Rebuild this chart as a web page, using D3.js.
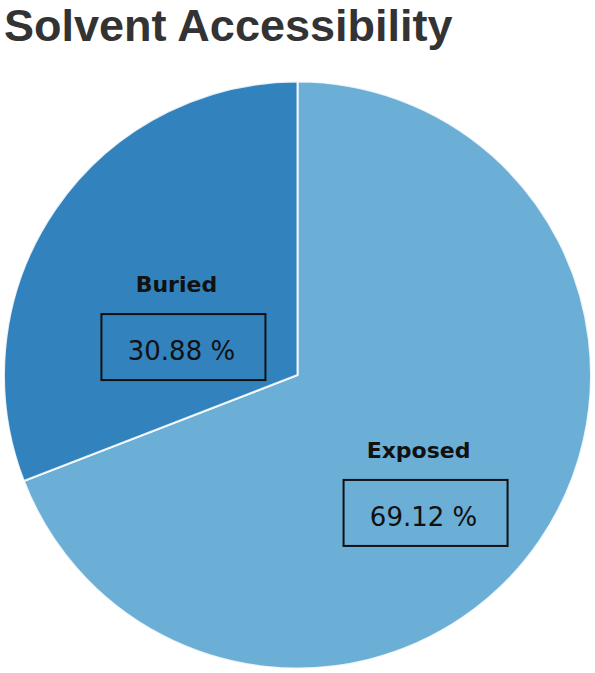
<!DOCTYPE html>
<html>
<head>
<meta charset="utf-8">
<script src="https://cdn.jsdelivr.net/npm/d3@7"></script>
<style>
  html, body { margin: 0; padding: 0; background: #fff; }
  svg { display: block; }
</style>
</head>
<body>
<div id="chart"></div>
<script>
// chart data
var categories = ["Exposed", "Buried"];
var values = [69.12, 30.88];
var colors = ["#6baed6", "#3182bd"];

var w = 595, h = 673;
var cx = 297.5, cy = 375, radius = 293.5;

var svg = d3.select("#chart")
  .append("svg")
  .attr("width", w)
  .attr("height", h);

// title
svg.append("text")
  .attr("x", 4)
  .attr("y", 41)
  .attr("font-family", "'Liberation Sans', Arial, sans-serif")
  .attr("font-weight", "bold")
  .attr("font-size", 45)
  .attr("fill", "#333")
  .text("Solvent Accessibility");

var data = categories.map(function (c, i) {
  return { name: c, value: values[i], color: colors[i] };
});

var pie = d3.pie()
  .value(function (d) { return d.value; })
  .sort(null);

var arc = d3.arc()
  .innerRadius(0)
  .outerRadius(radius);

var g = svg.append("g")
  .attr("transform", "translate(" + cx + "," + cy + ")");

var arcs = pie(data);

g.selectAll("path")
  .data(arcs)
  .enter()
  .append("path")
  .attr("d", arc)
  .attr("fill", function (d) { return d.data.color; })
  .attr("stroke", "#fff")
  .attr("stroke-opacity", 0.85)
  .attr("stroke-width", 2);

// labels: name at slice centroid, boxed percent underneath
var labels = g.selectAll(".lbl")
  .data(arcs)
  .enter()
  .append("g")
  .attr("class", "lbl")
  .attr("transform", function (d) {
    return "translate(" + arc.centroid(d) + ")";
  });

labels.append("text")
  .attr("text-anchor", "middle")
  .attr("y", 0)
  .attr("font-family", "'DejaVu Sans', Verdana, sans-serif")
  .attr("font-weight", "bold")
  .attr("font-size", 22)
  .attr("fill", "#111")
  .text(function (d) { return d.data.name; });

labels.append("rect")
  .attr("x", 7 - 82)
  .attr("y", 22)
  .attr("width", 164)
  .attr("height", 66)
  .attr("fill", "none")
  .attr("stroke", "#111")
  .attr("stroke-width", 2);

labels.append("text")
  .attr("text-anchor", "middle")
  .attr("x", 5)
  .attr("y", 68)
  .attr("font-family", "'DejaVu Sans', Verdana, sans-serif")
  .attr("font-size", 26)
  .attr("fill", "#111")
  .text(function (d) { return d.data.value.toFixed(2) + " %"; });
</script>
</body>
</html>
